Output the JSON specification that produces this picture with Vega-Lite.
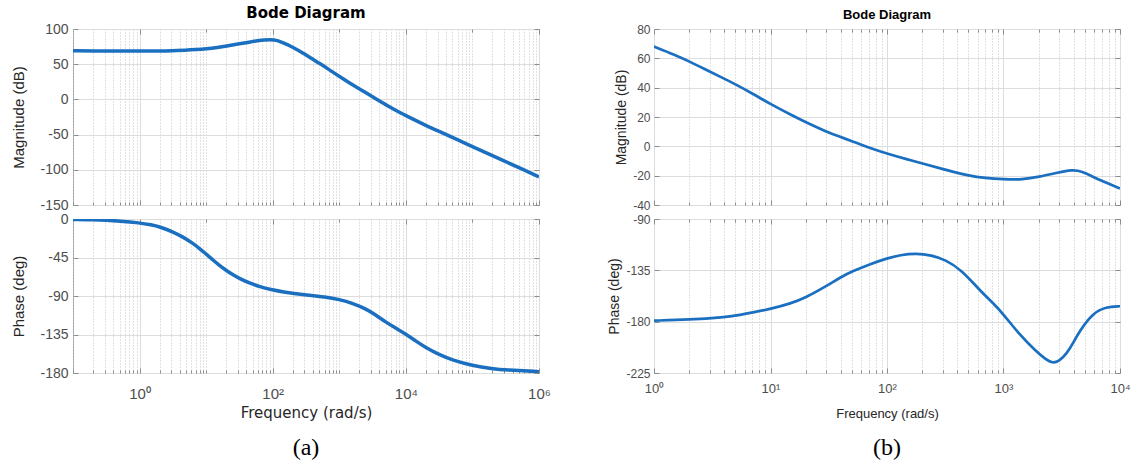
{
  "$schema": "https://vega.github.io/schema/vega-lite/v6.json",
  "background": "white",
  "padding": {"left": 11, "top": 5, "right": 5, "bottom": 0},
  "columns": 2,
  "bounds": "flush",
  "spacing": {"row": 14, "column": 115},
  "datasets": {
    "magA": [
      {"f": 0.1, "v": 69}, {"f": 0.2, "v": 68.9}, {"f": 0.5, "v": 68.7}, {"f": 1, "v": 68.7}, {"f": 2, "v": 68.8},
      {"f": 3, "v": 69.1}, {"f": 5, "v": 69.9}, {"f": 7, "v": 70.7}, {"f": 10, "v": 71.8}, {"f": 15, "v": 73.8},
      {"f": 20, "v": 75.6}, {"f": 30, "v": 78.6}, {"f": 45, "v": 81.5}, {"f": 60, "v": 83.3}, {"f": 75, "v": 84.4},
      {"f": 90, "v": 84.9}, {"f": 105, "v": 84.5}, {"f": 120, "v": 83.3}, {"f": 140, "v": 80.8}, {"f": 170, "v": 77.5},
      {"f": 200, "v": 74}, {"f": 250, "v": 69}, {"f": 300, "v": 64.5}, {"f": 400, "v": 57}, {"f": 500, "v": 51.5},
      {"f": 700, "v": 42.5}, {"f": 1000, "v": 32.5}, {"f": 1500, "v": 22}, {"f": 2000, "v": 15}, {"f": 3000, "v": 5},
      {"f": 4000, "v": -2}, {"f": 5000, "v": -7.5}, {"f": 7000, "v": -15.5}, {"f": 10000, "v": -23}, {"f": 20000, "v": -37},
      {"f": 31600, "v": -45.5}, {"f": 50000, "v": -54}, {"f": 100000, "v": -67}, {"f": 200000, "v": -80}, {"f": 316000, "v": -88.5},
      {"f": 500000, "v": -97}, {"f": 1000000, "v": -110}
    ],
    "phaseA": [
      {"f": 0.1, "v": -0.5}, {"f": 0.2, "v": -0.9}, {"f": 0.316, "v": -1.4}, {"f": 0.5, "v": -2.3}, {"f": 1, "v": -4.5},
      {"f": 1.5, "v": -6.8}, {"f": 2, "v": -9}, {"f": 3.16, "v": -15}, {"f": 4.5, "v": -21}, {"f": 6.2, "v": -28},
      {"f": 8, "v": -34.5}, {"f": 10, "v": -41}, {"f": 12.5, "v": -47.5}, {"f": 15.6, "v": -54}, {"f": 20, "v": -60},
      {"f": 25, "v": -65}, {"f": 31.6, "v": -69.5}, {"f": 45, "v": -75}, {"f": 63, "v": -79}, {"f": 100, "v": -83},
      {"f": 150, "v": -85.5}, {"f": 200, "v": -87}, {"f": 355, "v": -89}, {"f": 600, "v": -91}, {"f": 1000, "v": -94},
      {"f": 1600, "v": -98.5}, {"f": 2500, "v": -105}, {"f": 3500, "v": -112}, {"f": 5000, "v": -120.5}, {"f": 7000, "v": -127.5},
      {"f": 10000, "v": -134.5}, {"f": 14000, "v": -142.5}, {"f": 20000, "v": -150.5}, {"f": 31600, "v": -158.5}, {"f": 50000, "v": -165},
      {"f": 100000, "v": -171.5}, {"f": 200000, "v": -175}, {"f": 316000, "v": -176.5}, {"f": 1000000, "v": -178.4}
    ],
    "magB": [
      {"f": 1, "v": 68}, {"f": 1.5, "v": 62.5}, {"f": 2, "v": 58}, {"f": 3, "v": 51}, {"f": 4, "v": 46.2},
      {"f": 5, "v": 42.3}, {"f": 7, "v": 36}, {"f": 10, "v": 28.8}, {"f": 15, "v": 21.5}, {"f": 20, "v": 16.5},
      {"f": 30, "v": 10.1}, {"f": 40, "v": 6.3}, {"f": 50, "v": 3.6}, {"f": 74, "v": -1.6}, {"f": 100, "v": -5},
      {"f": 150, "v": -9}, {"f": 200, "v": -11.5}, {"f": 316, "v": -16}, {"f": 500, "v": -20}, {"f": 700, "v": -21.7},
      {"f": 1000, "v": -22.4}, {"f": 1460, "v": -22.7}, {"f": 2000, "v": -20.9}, {"f": 2960, "v": -17.8}, {"f": 3860, "v": -16},
      {"f": 4700, "v": -16.8}, {"f": 6100, "v": -21.5}, {"f": 8000, "v": -25.5}, {"f": 10000, "v": -28.8}
    ],
    "phaseB": [
      {"f": 1, "v": -179.1}, {"f": 2, "v": -178.3}, {"f": 4, "v": -176.1}, {"f": 5.3, "v": -174.3}, {"f": 7, "v": -172},
      {"f": 10, "v": -168.9}, {"f": 15, "v": -164}, {"f": 20, "v": -159}, {"f": 30, "v": -149}, {"f": 40, "v": -141},
      {"f": 50, "v": -136}, {"f": 74, "v": -129}, {"f": 100, "v": -124.5}, {"f": 130, "v": -121.5}, {"f": 178, "v": -120},
      {"f": 240, "v": -121.8}, {"f": 316, "v": -125.5}, {"f": 440, "v": -135}, {"f": 612, "v": -151.5}, {"f": 800, "v": -163},
      {"f": 1000, "v": -173.4}, {"f": 1360, "v": -191}, {"f": 1900, "v": -206}, {"f": 2300, "v": -213}, {"f": 2640, "v": -216.5},
      {"f": 3000, "v": -214.5}, {"f": 3460, "v": -208.5}, {"f": 4000, "v": -198}, {"f": 4500, "v": -188}, {"f": 5900, "v": -172},
      {"f": 7600, "v": -167}, {"f": 10000, "v": -166.5}
    ]
  },
  "config": {
    "view": {"stroke": "#a0a0a0", "strokeWidth": 1},
    "axis": {
      "domain": false, "gridColor": "#dddddd", "tickColor": "#8c8c8c", "labelColor": "#4d4d4d",
      "titleColor": "#262626", "titleFontWeight": "normal", "labelFont": "Liberation Sans", "titleFont": "Liberation Sans",
      "labelFlush": false, "labelOverlap": false, "labelBound": false
    },
    "title": {"color": "#000000"},
    "line": {"color": "#1a6fc0"}
  },
  "concat": [
    {
      "width": 466, "height": 176,
      "title": {"text": "Bode Diagram", "font": "DejaVu Sans", "fontSize": 15, "fontWeight": "bold", "frame": "group", "offset": 1},
      "data": {"name": "magA"},
      "resolve": {"axis": {"x": "independent", "y": "independent"}},
      "layer": [
        {
          "mark": {"type": "line", "strokeWidth": 3.5, "interpolate": "basis", "clip": true},
          "encoding": {
            "x": {
              "field": "f", "type": "quantitative",
              "scale": {"type": "log", "domain": [0.1, 1000000], "nice": false},
              "axis": {
                "values": [0.1,0.2,0.3,0.4,0.5,0.6,0.7,0.8,0.9,1,2,3,4,5,6,7,8,9,10,20,30,40,50,60,70,80,90,100,200,300,400,500,600,700,800,900,1000,2000,3000,4000,5000,6000,7000,8000,9000,10000,20000,30000,40000,50000,60000,70000,80000,90000,100000,200000,300000,400000,500000,600000,700000,800000,900000,1000000],
                "labels": false, "title": null, "grid": true,
                "gridDash": {"condition": {"test": "indexof([1,100,10000,1000000], datum.value) < 0", "value": [1, 2]}, "value": []},
                "gridColor": {"condition": {"test": "indexof([1,100,10000,1000000], datum.value) < 0", "value": "#c4c4c4"}, "value": "#dddddd"},
                "tickSize": {"condition": {"test": "indexof([1,100,10000,1000000], datum.value) < 0", "value": -3}, "value": -5}
              }
            },
            "y": {
              "field": "v", "type": "quantitative",
              "scale": {"domain": [-150, 100], "nice": false, "zero": false},
              "axis": {
                "values": [-150, -100, -50, 0, 50, 100], "title": "Magnitude (dB)", "titleFontSize": 15, "labelFontSize": 14,
                "labelExpr": "datum.value < 0 ? '-' + abs(datum.value) : '' + datum.value",
                "tickSize": -5, "labelPadding": 10, "titlePadding": 13
              }
            }
          }
        },
        {
          "mark": {"type": "line", "opacity": 0},
          "encoding": {
            "x": {
              "field": "f", "type": "quantitative",
              "axis": {
                "orient": "top", "values": [1,10,100,1000,10000,100000,1000000],
                "labels": false, "title": null, "grid": false,
                "tickSize": {"condition": {"test": "indexof([1,100,10000,1000000], datum.value) < 0", "value": -3}, "value": -5}
              }
            },
            "y": {
              "field": "v", "type": "quantitative",
              "axis": {"orient": "right", "values": [-150, -100, -50, 0, 50, 100], "labels": false, "title": null, "grid": false, "tickSize": -5}
            }
          }
        }
      ]
    },
    {
      "width": 466, "height": 176,
      "title": {"text": "Bode Diagram", "font": "Liberation Sans", "fontSize": 13, "fontWeight": "bold", "frame": "group", "offset": 1},
      "data": {"name": "magB"},
      "resolve": {"axis": {"x": "independent", "y": "independent"}},
      "layer": [
        {
          "mark": {"type": "line", "strokeWidth": 2.7, "interpolate": "basis", "clip": true},
          "encoding": {
            "x": {
              "field": "f", "type": "quantitative",
              "scale": {"type": "log", "domain": [1, 10000], "nice": false},
              "axis": {
                "values": [1,2,3,4,5,6,7,8,9,10,20,30,40,50,60,70,80,90,100,200,300,400,500,600,700,800,900,1000,2000,3000,4000,5000,6000,7000,8000,9000,10000],
                "labels": false, "title": null, "grid": true,
                "gridDash": {"condition": {"test": "indexof([1,10,100,1000,10000], datum.value) < 0", "value": [1, 2]}, "value": []},
                "gridColor": {"condition": {"test": "indexof([1,10,100,1000,10000], datum.value) < 0", "value": "#c4c4c4"}, "value": "#dddddd"},
                "tickSize": {"condition": {"test": "indexof([1,10,100,1000,10000], datum.value) < 0", "value": -3}, "value": -5}
              }
            },
            "y": {
              "field": "v", "type": "quantitative",
              "scale": {"domain": [-40, 80], "nice": false, "zero": false},
              "axis": {
                "values": [-40, -20, 0, 20, 40, 60, 80], "title": "Magnitude (dB)", "titleFontSize": 14, "labelFontSize": 12,
                "labelExpr": "datum.value < 0 ? '-' + abs(datum.value) : '' + datum.value",
                "tickSize": -5, "labelPadding": 9, "titlePadding": 4
              }
            }
          }
        },
        {
          "mark": {"type": "line", "opacity": 0},
          "encoding": {
            "x": {
              "field": "f", "type": "quantitative",
              "axis": {
                "orient": "top", "values": [1,2,3,4,5,6,7,8,9,10,20,30,40,50,60,70,80,90,100,200,300,400,500,600,700,800,900,1000,2000,3000,4000,5000,6000,7000,8000,9000,10000],
                "labels": false, "title": null, "grid": false,
                "tickSize": {"condition": {"test": "indexof([1,10,100,1000,10000], datum.value) < 0", "value": -3}, "value": -5}
              }
            },
            "y": {
              "field": "v", "type": "quantitative",
              "axis": {"orient": "right", "values": [-40, -20, 0, 20, 40, 60, 80], "labels": false, "title": null, "grid": false, "tickSize": -5}
            }
          }
        }
      ]
    },
    {
      "width": 466, "height": 154,
      "title": {"text": "(a)", "orient": "bottom", "font": "Liberation Serif", "fontSize": 24, "fontWeight": "normal", "frame": "group", "offset": 16},
      "data": {"name": "phaseA"},
      "resolve": {"axis": {"x": "independent", "y": "independent"}},
      "layer": [
        {
          "mark": {"type": "line", "strokeWidth": 3.5, "interpolate": "basis", "clip": true},
          "encoding": {
            "x": {
              "field": "f", "type": "quantitative",
              "scale": {"type": "log", "domain": [0.1, 1000000], "nice": false},
              "axis": {
                "values": [0.1,0.2,0.3,0.4,0.5,0.6,0.7,0.8,0.9,1,2,3,4,5,6,7,8,9,10,20,30,40,50,60,70,80,90,100,200,300,400,500,600,700,800,900,1000,2000,3000,4000,5000,6000,7000,8000,9000,10000,20000,30000,40000,50000,60000,70000,80000,90000,100000,200000,300000,400000,500000,600000,700000,800000,900000,1000000],
                "labelExpr": "datum.value == 1 ? '10⁰' : datum.value == 100 ? '10²' : datum.value == 10000 ? '10⁴' : datum.value == 1000000 ? '10⁶' : ''",
                "labelFontSize": 15, "labelPadding": 18,
                "title": "Frequency  (rad/s)", "titleFont": "DejaVu Sans", "titleFontSize": 15, "titlePadding": 2, "grid": true,
                "gridDash": {"condition": {"test": "indexof([1,100,10000,1000000], datum.value) < 0", "value": [1, 2]}, "value": []},
                "gridColor": {"condition": {"test": "indexof([1,100,10000,1000000], datum.value) < 0", "value": "#c4c4c4"}, "value": "#dddddd"},
                "tickSize": {"condition": {"test": "indexof([1,100,10000,1000000], datum.value) < 0", "value": -3}, "value": -5}
              }
            },
            "y": {
              "field": "v", "type": "quantitative",
              "scale": {"domain": [-180, 0], "nice": false, "zero": false},
              "axis": {
                "values": [-180, -135, -90, -45, 0], "title": "Phase (deg)", "titleFontSize": 15, "labelFontSize": 14,
                "labelExpr": "datum.value < 0 ? '-' + abs(datum.value) : '' + datum.value",
                "tickSize": -5, "labelPadding": 10, "titlePadding": 13
              }
            }
          }
        },
        {
          "mark": {"type": "line", "opacity": 0},
          "encoding": {
            "x": {
              "field": "f", "type": "quantitative",
              "axis": {
                "orient": "top", "values": [1,10,100,1000,10000,100000,1000000],
                "labels": false, "title": null, "grid": false,
                "tickSize": {"condition": {"test": "indexof([1,100,10000,1000000], datum.value) < 0", "value": -3}, "value": -5}
              }
            },
            "y": {
              "field": "v", "type": "quantitative",
              "axis": {"orient": "right", "values": [-180, -135, -90, -45, 0], "labels": false, "title": null, "grid": false, "tickSize": -5}
            }
          }
        }
      ]
    },
    {
      "width": 466, "height": 154,
      "title": {"text": "(b)", "orient": "bottom", "font": "Liberation Serif", "fontSize": 24, "fontWeight": "normal", "frame": "group", "offset": 16},
      "data": {"name": "phaseB"},
      "resolve": {"axis": {"x": "independent", "y": "independent"}},
      "layer": [
        {
          "mark": {"type": "line", "strokeWidth": 2.7, "interpolate": "basis", "clip": true},
          "encoding": {
            "x": {
              "field": "f", "type": "quantitative",
              "scale": {"type": "log", "domain": [1, 10000], "nice": false},
              "axis": {
                "values": [1,2,3,4,5,6,7,8,9,10,20,30,40,50,60,70,80,90,100,200,300,400,500,600,700,800,900,1000,2000,3000,4000,5000,6000,7000,8000,9000,10000],
                "labelExpr": "datum.value == 1 ? '10⁰' : datum.value == 10 ? '10¹' : datum.value == 100 ? '10²' : datum.value == 1000 ? '10³' : datum.value == 10000 ? '10⁴' : ''",
                "labelFontSize": 13, "labelPadding": 14,
                "title": "Frequency  (rad/s)", "titleFontSize": 13, "titlePadding": 10, "grid": true,
                "gridDash": {"condition": {"test": "indexof([1,10,100,1000,10000], datum.value) < 0", "value": [1, 2]}, "value": []},
                "gridColor": {"condition": {"test": "indexof([1,10,100,1000,10000], datum.value) < 0", "value": "#c4c4c4"}, "value": "#dddddd"},
                "tickSize": {"condition": {"test": "indexof([1,10,100,1000,10000], datum.value) < 0", "value": -3}, "value": -5}
              }
            },
            "y": {
              "field": "v", "type": "quantitative",
              "scale": {"domain": [-225, -90], "nice": false, "zero": false},
              "axis": {
                "values": [-225, -180, -135, -90], "title": "Phase (deg)", "titleFontSize": 14, "labelFontSize": 12,
                "labelExpr": "datum.value < 0 ? '-' + abs(datum.value) : '' + datum.value",
                "tickSize": -5, "labelPadding": 9, "titlePadding": 4
              }
            }
          }
        },
        {
          "mark": {"type": "line", "opacity": 0},
          "encoding": {
            "x": {
              "field": "f", "type": "quantitative",
              "axis": {
                "orient": "top", "values": [1,2,3,4,5,6,7,8,9,10,20,30,40,50,60,70,80,90,100,200,300,400,500,600,700,800,900,1000,2000,3000,4000,5000,6000,7000,8000,9000,10000],
                "labels": false, "title": null, "grid": false,
                "tickSize": {"condition": {"test": "indexof([1,10,100,1000,10000], datum.value) < 0", "value": -3}, "value": -5}
              }
            },
            "y": {
              "field": "v", "type": "quantitative",
              "axis": {"orient": "right", "values": [-225, -180, -135, -90], "labels": false, "title": null, "grid": false, "tickSize": -5}
            }
          }
        }
      ]
    }
  ]
}
